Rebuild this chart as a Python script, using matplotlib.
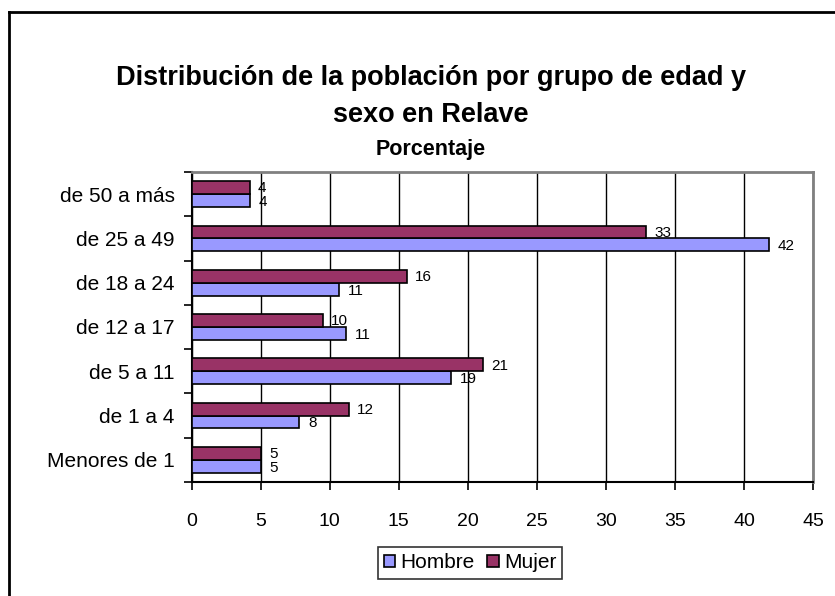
import matplotlib
matplotlib.use("Agg")
import matplotlib.pyplot as plt
from matplotlib.lines import Line2D
import numpy as np

plt.rcParams['font.family'] = ['Liberation Sans', 'DejaVu Sans']

categories = ["Menores de 1", "de 1 a 4", "de 5 a 11", "de 12 a 17", "de 18 a 24", "de 25 a 49", "de 50 a más"]
hombre = [5.0, 7.8, 18.8, 11.2, 10.7, 41.8, 4.2]
mujer = [5.0, 11.4, 21.1, 9.5, 15.6, 32.9, 4.2]
hombre_labels = ["5", "8", "19", "11", "11", "42", "4"]
mujer_labels = ["5", "12", "21", "10", "16", "33", "4"]
xticks = [0, 5, 10, 15, 20, 25, 30, 35, 40, 45]

W, H = 835, 596
fig = plt.figure(figsize=(W / 100, H / 100), dpi=100)
fig.patch.set_facecolor('white')

# figure border (only left and top visible, chart area cropped at right/bottom)
fig.add_artist(Line2D([8.5 / W, 8.5 / W], [0, 1 - 12 / H], transform=fig.transFigure, color='black', linewidth=2))
fig.add_artist(Line2D([8.5 / W, 1], [1 - 12 / H, 1 - 12 / H], transform=fig.transFigure, color='black', linewidth=2))

left, right, top, bottom = 191.5, 813, 172, 482
ax = fig.add_axes([left / W, 1 - bottom / H, (right - left) / W, (bottom - top) / H])

y = np.arange(len(categories))
h = 0.29
ax.barh(y - h / 2, hombre, height=h, color='#9999FF', edgecolor='black', linewidth=1.2, label='Hombre', zorder=3)
ax.barh(y + h / 2, mujer, height=h, color='#993366', edgecolor='black', linewidth=1.2, label='Mujer', zorder=3)

for yi, v, t in zip(y, hombre, hombre_labels):
    ax.annotate(t, (v, yi - h / 2), xytext=(6.5, -1), textcoords='offset points', va='center', ha='left',
                fontsize=11, zorder=2.5)
for yi, v, t in zip(y, mujer, mujer_labels):
    ax.annotate(t, (v, yi + h / 2), xytext=(6, -0.5), textcoords='offset points', va='center', ha='left',
                fontsize=11, zorder=2.5)

ax.set_xlim(0, 45)
ax.set_ylim(-0.5, len(categories) - 0.5)
ax.set_xticks(xticks)
ax.set_xticklabels([str(t) for t in xticks], fontsize=14)
ax.xaxis.grid(True, color='black', linewidth=1.0, zorder=0)
ax.set_axisbelow(True)

ax.set_yticks(y)
ax.set_yticklabels(categories, fontsize=15)
ax.tick_params(axis='y', which='major', length=0, pad=12)
ax.set_yticks(np.arange(-0.5, len(categories), 1), minor=True)
ax.tick_params(axis='y', which='minor', length=6, width=1.2, direction='out')
ax.tick_params(axis='x', length=6, width=1.2, direction='out', pad=16)

for s in ['left', 'bottom']:
    ax.spines[s].set_color('black')
    ax.spines[s].set_linewidth(1.5)
for s in ['top', 'right']:
    ax.spines[s].set_color('#808080')
    ax.spines[s].set_linewidth(2)

fig.text(431 / W, 1 - 78 / H, "Distribución de la población por grupo de edad y",
         ha='center', va='center', fontsize=19.5, fontweight='bold')
fig.text(431 / W, 1 - 115 / H, "sexo en Relave", ha='center', va='center', fontsize=19.5, fontweight='bold')
fig.text(431 / W, 1 - 150 / H, "Porcentaje", ha='center', va='center', fontsize=15.5, fontweight='bold')

leg = fig.legend(loc='center', bbox_to_anchor=(470 / W, 1 - 563 / H), ncol=2, fontsize=15,
                 frameon=True, fancybox=False, edgecolor='black', handlelength=0.55, handleheight=0.55,
                 handletextpad=0.25, columnspacing=0.6, borderpad=0.3)
leg.get_frame().set_linewidth(1.2)

fig.savefig('out.png', dpi=100)
